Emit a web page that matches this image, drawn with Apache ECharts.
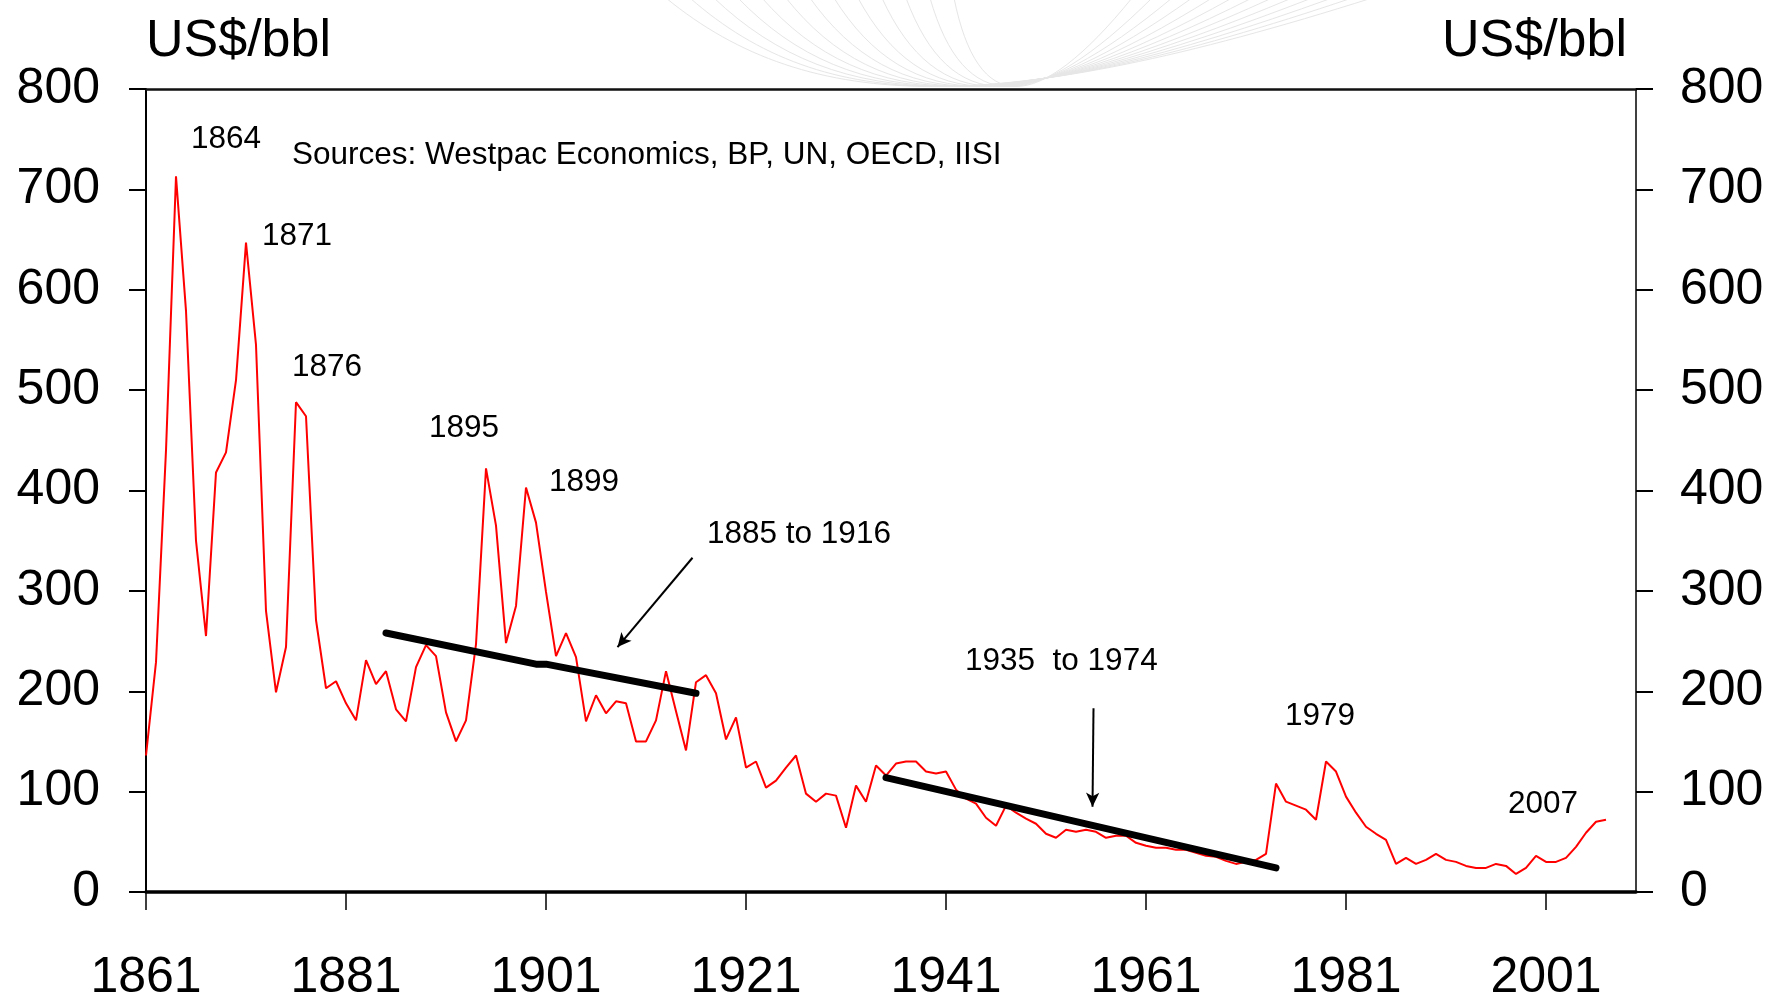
<!DOCTYPE html>
<html>
<head>
<meta charset="utf-8">
<script src="https://cdn.jsdelivr.net/npm/echarts@6/dist/echarts.min.js"></script>
<style>
  html, body { margin: 0; padding: 0; background: #fff; }
  #echarts-oil { width: 1788px; height: 998px; }
</style>
</head>
<body>
<div id="echarts-oil"></div>
<script type="text/javascript">
  // Real oil price, US$/bbl, 1861 to 2007

  var firstYear = 1861;
  var prices = [
    136, 229, 440, 713, 579, 350, 255, 418, 438, 510,   // 1861-1870
    647, 545, 280, 199, 244, 488, 474, 271, 203, 210,   // 1871-1880
    188, 171, 231, 207, 220, 182, 170, 224, 246, 235,   // 1881-1890
    179, 150, 171, 247, 422, 365, 248, 285, 403, 368,   // 1891-1900
    299, 235, 258, 234, 170, 196, 178, 190, 188, 150,   // 1901-1910
    150, 171, 220, 180, 141, 209, 216, 198, 152, 174,   // 1911-1920
    124, 130, 104, 111, 124, 136, 98, 90, 98, 96,       // 1921-1930
    64, 106, 90, 126, 116, 128, 130, 130, 120, 118,     // 1931-1940
    120, 102, 93, 88, 74, 66, 86, 79, 73, 68,           // 1941-1950
    58, 54, 62, 60, 62, 60, 54, 56, 56, 49,             // 1951-1960
    46, 44, 44, 42, 42, 39, 36, 35, 31, 28,             // 1961-1970
    30, 32, 38, 108, 90, 86, 82, 72, 130, 120,          // 1971-1980
    95, 79, 65, 58, 52, 28, 34, 28, 32, 38,             // 1981-1990
    32, 30, 26, 24, 24, 28, 26, 18, 24, 36,             // 1991-2000
    30, 30, 34, 45, 59, 70, 72                          // 2001-2007
  ];

  // trend lines drawn over the price series
  var trendEarly = [[1885, 258], [1900, 227], [1901, 227], [1916, 198]];
  var trendLate = [[1935, 114], [1974, 24]];

  // arrows pointing at the trend lines: [from, to]
  var arrows = [
    [[1915.65, 333], [1908.15, 244]],
    [[1955.75, 183], [1955.65, 85]]
  ];

  var yearTicks = [1861, 1881, 1901, 1921, 1941, 1961, 1981, 2001];

  var priceData = prices.map(function (v, i) {
    return [firstYear + i, v];
  });

  var font = '"Liberation Sans", Arial, sans-serif';

  // faint decorative curves at the top (template background)
  var decor = [];
  for (var i = 0; i < 13; i++) {
    decor.push({
      type: 'bezierCurve',
      silent: true,
      z: -10,
      shape: {
        x1: 666 + i * 24, y1: -2,
        cpx1: 810 + i * 14, cpy1: 116,
        cpx2: 1000 + i * 3, cpy2: 116,
        x2: 1372 - i * 20, y2: -2
      },
      style: { stroke: '#e6e6e6', lineWidth: 1, fill: null }
    });
  }

  function note(text, x, y) {
    return {
      type: 'text',
      x: x,
      y: y,
      silent: true,
      style: {
        text: text,
        fill: '#000',
        font: '31.5px ' + font,
        verticalAlign: 'middle',
        align: 'left'
      }
    };
  }

  var notes = [
    note('1864', 191, 139),
    note('Sources: Westpac Economics, BP, UN, OECD, IISI', 292, 155),
    note('1871', 262, 236),
    note('1876', 292, 367),
    note('1895', 429, 428),
    note('1899', 549, 482),
    note('1885 to 1916', 707, 534),
    note('1935  to 1974', 965, 661),
    note('1979', 1285, 716),
    note('2007', 1508, 804)
  ];

  var myChart = echarts.init(document.getElementById('echarts-oil'));

  var yAxisBase = {
    type: 'value',
    min: 0,
    max: 800,
    interval: 100,
    splitLine: { show: false },
    axisTick: { show: true, inside: false, length: 17, lineStyle: { color: '#000', width: 2 } },
    axisLabel: { fontSize: 50, fontFamily: font, color: '#000' },
    name: 'US$/bbl',
    nameLocation: 'end',
    nameGap: 21,
    nameTextStyle: { fontSize: 52, fontFamily: font, color: '#000', verticalAlign: 'bottom' }
  };

  var option = {
    animation: false,
    backgroundColor: '#fff',
    grid: {
      left: 146,
      right: 152,
      top: 89,
      bottom: 106,
      containLabel: false,
      outerBoundsMode: 'none'
    },
    xAxis: [
      {
        type: 'value',
        min: 1861,
        max: 2010,
        position: 'bottom',
        splitLine: { show: false },
        axisLine: { show: true, onZero: false, lineStyle: { color: '#000', width: 3.5 } },
        axisTick: { show: true, inside: false, length: 18, customValues: yearTicks, lineStyle: { color: '#000', width: 1.5 } },
        axisLabel: {
          customValues: yearTicks,
          margin: 61,
          fontSize: 50,
          fontFamily: font,
          color: '#000',
          formatter: function (v) { return String(v); }
        }
      },
      {
        type: 'value',
        min: 1861,
        max: 2010,
        position: 'top',
        splitLine: { show: false },
        axisLine: { show: true, onZero: false, lineStyle: { color: '#111', width: 2.5 } },
        axisTick: { show: false },
        axisLabel: { show: false }
      }
    ],
    yAxis: [
      echarts.util.merge({
        position: 'left',
        axisLine: { show: true, lineStyle: { color: '#000', width: 2 } },
        axisLabel: { margin: 46 },
        nameTextStyle: { align: 'left' }
      }, yAxisBase),
      echarts.util.merge({
        position: 'right',
        axisLine: { show: true, lineStyle: { color: '#000', width: 1.5 } },
        axisLabel: { margin: 44 },
        nameTextStyle: { align: 'right', padding: [0, 9, 0, 0] }
      }, yAxisBase)
    ],
    graphic: decor.concat(notes),
    series: [
      {
        name: 'Oil price',
        type: 'line',
        data: priceData,
        showSymbol: false,
        symbol: 'none',
        lineStyle: { color: '#ff0000', width: 2 },
        z: 3
      },
      {
        name: '1885 to 1916',
        type: 'line',
        data: trendEarly,
        showSymbol: false,
        symbol: 'none',
        lineStyle: { color: '#000', width: 7, cap: 'round', join: 'round' },
        z: 4,
        markLine: {
          silent: true,
          symbol: ['none', 'arrow'],
          symbolSize: [10, 14],
          label: { show: false },
          lineStyle: { color: '#000', width: 2, type: 'solid' },
          data: arrows.map(function (a) {
            return [{ coord: a[0] }, { coord: a[1] }];
          })
        }
      },
      {
        name: '1935 to 1974',
        type: 'line',
        data: trendLate,
        showSymbol: false,
        symbol: 'none',
        lineStyle: { color: '#000', width: 7, cap: 'round', join: 'round' },
        z: 4
      }
    ]
  };

  myChart.setOption(option);

  window.addEventListener('resize', function () {
    myChart.resize();
  });
</script>
</body>
</html>
